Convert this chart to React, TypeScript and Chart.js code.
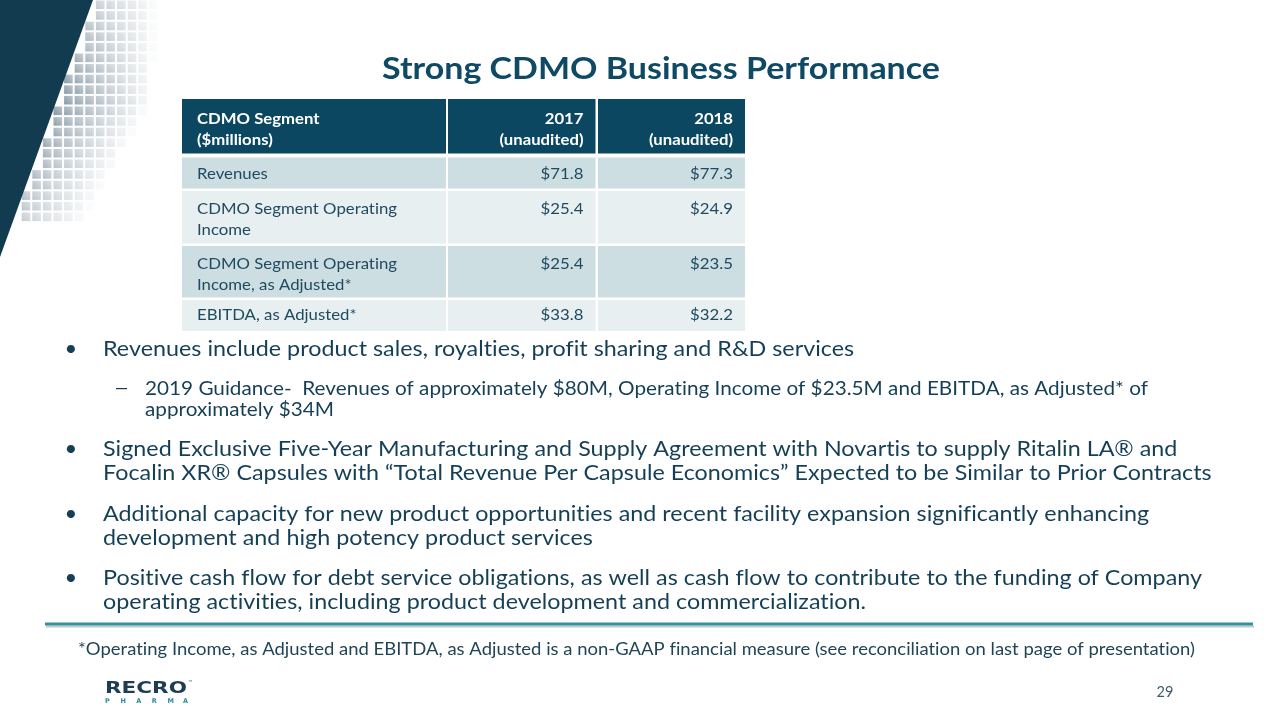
import React, { useEffect, useRef } from "react";
import { Chart, registerables } from "chart.js";

Chart.register(...registerables);

// ---------------- DATA ----------------
const titleText = "Strong CDMO Business Performance";
const headerCols: string[][] = [
  ["CDMO Segment", "($millions)"],
  ["2017", "(unaudited)"],
  ["2018", "(unaudited)"],
];
const rowLabels: string[][] = [
  ["Revenues"],
  ["CDMO Segment Operating", "Income"],
  ["CDMO Segment Operating", "Income, as Adjusted*"],
  ["EBITDA, as Adjusted*"],
];
const values2017 = [71.8, 25.4, 25.4, 33.8];
const values2018 = [77.3, 24.9, 23.5, 32.2];

const bulletMain1 = ["Revenues include product sales, royalties, profit sharing and R&D services"];
const bulletSub1 = [
  "2019 Guidance-  Revenues of approximately $80M, Operating Income of $23.5M and EBITDA, as Adjusted* of",
  "approximately $34M",
];
const bulletMain2 = [
  "Signed Exclusive Five-Year Manufacturing and Supply Agreement with Novartis to supply Ritalin LA® and",
  "Focalin XR® Capsules with “Total Revenue Per Capsule Economics” Expected to be Similar to Prior Contracts",
];
const bulletMain3 = [
  "Additional capacity for new product opportunities and recent facility expansion significantly enhancing",
  "development and high potency product services",
];
const bulletMain4 = [
  "Positive cash flow for debt service obligations, as well as cash flow to contribute to the funding of Company",
  "operating activities, including product development and commercialization.",
];
const footnoteText =
  "*Operating Income, as Adjusted and EBITDA, as Adjusted is a non-GAAP financial measure (see reconciliation on last page of presentation)";
const pageNumber = "29";
const logoWord = "RECRO";
const logoSub = "PHARMA";

// ---------------- STYLE ----------------
const FONT = "Lato";
const DARK = "#123b4f";
const TITLE_COL = "#0f4a64";
const HEADER_FILL = "#0b4761";
const ROW_DARK = "#cddee2";
const ROW_LIGHT = "#e8eff1";
const CELL_TEXT = "#1f4a5f";
const BODY_TEXT = "#153f56";
const TEAL = "#33909c";

type Align = "left" | "right" | "center";

function prep(ctx: CanvasRenderingContext2D, font: string) {
  ctx.font = font;
  const c = ctx as any;
  // disable ligatures (fi, ti ...) so the text looks like the original
  if ("letterSpacing" in c) c.letterSpacing = "0.01px";
  if ("textRendering" in c) c.textRendering = "optimizeSpeed";
}

function txt(
  ctx: CanvasRenderingContext2D,
  s: string,
  x: number,
  y: number,
  font: string,
  color: string,
  align: Align,
  sx = 1
) {
  ctx.save();
  prep(ctx, font);
  ctx.fillStyle = color;
  ctx.textBaseline = "alphabetic";
  ctx.textAlign = "left";
  const w = ctx.measureText(s).width * sx;
  const left = align === "left" ? x : align === "right" ? x - w : x - w / 2;
  ctx.translate(left, y);
  ctx.scale(sx, 1);
  ctx.fillText(s, 0, 0);
  ctx.restore();
}

function fit(ctx: CanvasRenderingContext2D, s: string, font: string, target: number) {
  ctx.save();
  prep(ctx, font);
  const w = ctx.measureText(s).width;
  ctx.restore();
  return w > 0 ? target / w : 1;
}

function mix(t: number) {
  const c = [118, 138, 152];
  const r = Math.round(255 + (c[0] - 255) * t);
  const g = Math.round(255 + (c[1] - 255) * t);
  const b = Math.round(255 + (c[2] - 255) * t);
  return `rgb(${r},${g},${b})`;
}

function drawSlide(chart: Chart) {
  const ctx = chart.ctx;
  ctx.save();
  ctx.fillStyle = "#ffffff";
  ctx.fillRect(0, 0, 1280, 720);

  // decorative left shape with fading square grid
  const topX = 93;
  const botY = 257;
  const edge = (y: number) => topX * (1 - y / botY);
  const pitch = 10.6;
  const sq = 8.6;
  for (let y0 = 0.5; y0 < 216; y0 += pitch) {
    const yc = y0 + sq / 2;
    const v = yc <= 100 ? 0.45 + 0.5 * (yc / 100) : Math.max(0, 0.95 - 0.45 * ((yc - 100) / 110));
    const D = yc <= 100 ? 62 + 30 * (yc / 100) : 92 - 22 * ((yc - 100) / 110);
    for (let x0 = 0.5; x0 < 260; x0 += pitch) {
      if (x0 < edge(y0 + sq) + 0.5) continue;
      const d = x0 - edge(yc);
      const f = Math.max(0, 1 - d / D);
      const t = Math.pow(f, 0.9) * v;
      if (t < 0.03) continue;
      const grd = ctx.createLinearGradient(x0, y0 + sq, x0 + sq, y0);
      grd.addColorStop(0, mix(t));
      grd.addColorStop(1, mix(t * 0.55));
      ctx.fillStyle = grd;
      ctx.fillRect(x0, y0, sq, sq);
    }
  }
  ctx.fillStyle = DARK;
  ctx.beginPath();
  ctx.moveTo(0, 0);
  ctx.lineTo(topX, 0);
  ctx.lineTo(0, botY);
  ctx.closePath();
  ctx.fill();

  // title
  const titleFont = `bold 30px ${FONT}`;
  txt(ctx, titleText, 661, 78.5, titleFont, TITLE_COL, "center", fit(ctx, titleText, titleFont, 558));

  // table
  const colX = [
    [182, 446],
    [448, 595.5],
    [598, 745],
  ];
  const headY = [99, 153.5];
  const rowY = [
    [157.5, 188.5],
    [191, 243.5],
    [246, 297.5],
    [300, 331],
  ];
  ctx.fillStyle = HEADER_FILL;
  colX.forEach(([a, b]) => ctx.fillRect(a, headY[0], b - a, headY[1] - headY[0]));
  rowY.forEach(([ya, yb], i) => {
    ctx.fillStyle = i % 2 === 0 ? ROW_DARK : ROW_LIGHT;
    colX.forEach(([a, b]) => ctx.fillRect(a, ya, b - a, yb - ya));
  });

  const headFont = `bold 15px ${FONT}`;
  const hsx = fit(ctx, "CDMO Segment", headFont, 122.5);
  const headBase = [123.5, 145];
  headerCols.forEach((lines, ci) => {
    lines.forEach((ln, li) => {
      if (ci === 0) txt(ctx, ln, 197, headBase[li], headFont, "#ffffff", "left", hsx);
      else txt(ctx, ln, colX[ci][1] - 12, headBase[li], headFont, "#ffffff", "right", hsx);
    });
  });

  const cellFont = `15px ${FONT}`;
  const csx = fit(ctx, "CDMO Segment Operating", cellFont, 200);
  const firstBase = [178.5, 213.5, 268.5, 319.5];
  const lineGap = 21;
  rowLabels.forEach((lines, ri) => {
    lines.forEach((ln, li) => {
      txt(ctx, ln, 197, firstBase[ri] + li * lineGap, cellFont, CELL_TEXT, "left", csx);
    });
    txt(ctx, "$" + values2017[ri].toFixed(1), colX[1][1] - 12, firstBase[ri], cellFont, CELL_TEXT, "right", csx);
    txt(ctx, "$" + values2018[ri].toFixed(1), colX[2][1] - 12, firstBase[ri], cellFont, CELL_TEXT, "right", csx);
  });

  // bullets
  const bFont = `22px ${FONT}`;
  const bsx = fit(ctx, bulletMain4[0], bFont, 1099);
  const sFont = `18.5px ${FONT}`;
  const ssx = fit(ctx, bulletSub1[0], sFont, 1003);
  const bulletX = 71;
  const textX = 103;

  const mainBlock = (lines: string[], base: number) => {
    txt(ctx, "•", bulletX, base, bFont, BODY_TEXT, "center");
    lines.forEach((ln, i) => txt(ctx, ln, textX, base + i * 24, bFont, BODY_TEXT, "left", bsx));
  };
  mainBlock(bulletMain1, 356);
  txt(ctx, "–", 121.5, 394, sFont, BODY_TEXT, "center", 1.5);
  bulletSub1.forEach((ln, i) => txt(ctx, ln, 145, 395 + i * 21, sFont, BODY_TEXT, "left", ssx));
  mainBlock(bulletMain2, 456);
  mainBlock(bulletMain3, 521);
  mainBlock(bulletMain4, 585);

  // separator line
  ctx.fillStyle = "rgba(120,135,140,0.45)";
  ctx.fillRect(46, 625.5, 1208, 2);
  ctx.fillStyle = TEAL;
  ctx.fillRect(45, 622.5, 1208, 3);

  // footnote
  const fFont = `17px ${FONT}`;
  txt(ctx, footnoteText, 78, 655, fFont, "#1f4457", "left", fit(ctx, footnoteText, fFont, 1117));

  // logo
  const lFont = `bold 15.5px "DejaVu Sans"`;
  txt(ctx, logoWord, 105, 693, lFont, "#1d3d51", "left", fit(ctx, logoWord, lFont, 82));
  txt(ctx, "™", 188, 684, `5px "DejaVu Sans"`, "#1d3d51", "left");
  const pFont = `bold 6.5px "DejaVu Sans"`;
  logoSub.split("").forEach((ch, i) => {
    txt(ctx, ch, 105 + i * 15.6, 703, pFont, "#2a8c9e", "left");
  });

  // page number
  txt(ctx, pageNumber, 1165, 697, `14.5px ${FONT}`, "#3f5d6e", "center");

  ctx.restore();
}

const slidePlugin = {
  id: "slideDrawer",
  beforeDraw(chart: Chart) {
    drawSlide(chart);
  },
};

export default function App() {
  const ref = useRef<HTMLCanvasElement | null>(null);

  useEffect(() => {
    document.body.style.margin = "0";
    const canvas = ref.current;
    if (!canvas) return;
    let alive = true;
    const chart = new Chart(canvas, {
      type: "bar",
      data: {
        labels: rowLabels.map((l) => l.join(" ")),
        datasets: [
          { label: headerCols[1][0], data: values2017, backgroundColor: "rgba(0,0,0,0)" },
          { label: headerCols[2][0], data: values2018, backgroundColor: "rgba(0,0,0,0)" },
        ],
      },
      options: {
        responsive: false,
        animation: false,
        events: [],
        plugins: { legend: { display: false }, tooltip: { enabled: false } },
        scales: { x: { display: false }, y: { display: false } },
      },
      plugins: [slidePlugin],
    });
    if ((document as any).fonts && (document as any).fonts.load) {
      Promise.all([
        (document as any).fonts.load(`16px ${FONT}`),
        (document as any).fonts.load(`bold 16px ${FONT}`),
      ])
        .then(() => {
          if (alive) chart.draw();
        })
        .catch(() => {});
    }
    return () => {
      alive = false;
      chart.destroy();
    };
  }, []);

  return (
    <canvas
      ref={ref}
      width={1280}
      height={720}
      style={{ position: "fixed", left: 0, top: 0, width: 1280, height: 720, display: "block" }}
    />
  );
}
